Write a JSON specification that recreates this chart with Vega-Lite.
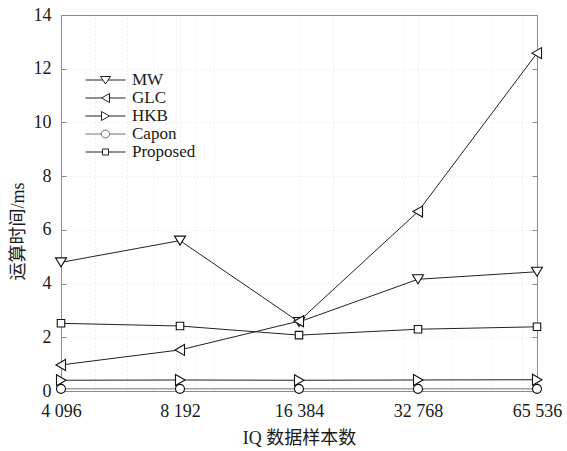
{
  "$schema": "https://vega.github.io/schema/vega-lite/v6.json",
  "width": 476,
  "height": 376,
  "autosize": {"type": "none"},
  "padding": {"left": 61, "top": 15, "right": 30, "bottom": 60},
  "background": "white",
  "config": {
    "view": {"stroke": null},
    "font": "Liberation Serif",
    "axis": {
      "labelFont": "Liberation Serif",
      "labelFontSize": 18,
      "labelColor": "#1a1a1a",
      "titleFont": "Liberation Serif, Noto Sans CJK SC",
      "titleFontSize": 18,
      "titleFontWeight": "normal",
      "titleColor": "#1a1a1a",
      "domainColor": "#8c8c8c",
      "tickColor": "#8c8c8c",
      "gridColor": "#e2e2e2",
      "gridDash": [1, 3],
      "gridWidth": 1
    }
  },
  "data": {
    "values": [
      {"n": 4096, "series": "MW", "t": 4.79},
      {"n": 8192, "series": "MW", "t": 5.6},
      {"n": 16384, "series": "MW", "t": 2.57},
      {"n": 32768, "series": "MW", "t": 4.16},
      {"n": 65536, "series": "MW", "t": 4.44},
      {"n": 4096, "series": "GLC", "t": 0.97},
      {"n": 8192, "series": "GLC", "t": 1.53},
      {"n": 16384, "series": "GLC", "t": 2.6},
      {"n": 32768, "series": "GLC", "t": 6.68},
      {"n": 65536, "series": "GLC", "t": 12.58},
      {"n": 4096, "series": "HKB", "t": 0.4},
      {"n": 8192, "series": "HKB", "t": 0.41},
      {"n": 16384, "series": "HKB", "t": 0.4},
      {"n": 32768, "series": "HKB", "t": 0.41},
      {"n": 65536, "series": "HKB", "t": 0.42},
      {"n": 4096, "series": "Capon", "t": 0.08},
      {"n": 8192, "series": "Capon", "t": 0.08},
      {"n": 16384, "series": "Capon", "t": 0.08},
      {"n": 32768, "series": "Capon", "t": 0.08},
      {"n": 65536, "series": "Capon", "t": 0.08},
      {"n": 4096, "series": "Proposed", "t": 2.52},
      {"n": 8192, "series": "Proposed", "t": 2.42},
      {"n": 16384, "series": "Proposed", "t": 2.08},
      {"n": 32768, "series": "Proposed", "t": 2.3},
      {"n": 65536, "series": "Proposed", "t": 2.39}
    ]
  },
  "resolve": {"axis": {"x": "independent", "y": "independent"}},
  "layer": [
    {
      "mark": {"type": "line", "strokeWidth": 1},
      "encoding": {
        "x": {
          "field": "n",
          "type": "quantitative",
          "scale": {"type": "log", "base": 2, "domain": [4096, 65536], "nice": false, "zero": false},
          "axis": {
            "orient": "bottom",
            "title": "IQ 数据样本数",
            "values": [4096, 8192, 16384, 32768, 65536],
            "labelExpr": "replace(format(datum.value, ','), ',', ' ')",
            "tickSize": -5,
            "labelPadding": 16,
            "labelFlush": false,
            "labelOverlap": false,
            "grid": true,
            "titleY": 47,
            "titleBaseline": "middle"
          }
        },
        "y": {
          "field": "t",
          "type": "quantitative",
          "scale": {"domain": [0, 14], "nice": false},
          "axis": {
            "orient": "left",
            "title": "运算时间/ms",
            "values": [0, 2, 4, 6, 8, 10, 12, 14],
            "tickSize": -5,
            "labelPadding": 15,
            "grid": true,
            "titleX": -43,
            "titleY": 216,
            "titleBaseline": "middle",
            "titleColor": "#1a1a1a"
          }
        },
        "stroke": {
          "field": "series",
          "type": "nominal",
          "scale": {
            "domain": ["MW", "GLC", "HKB", "Capon", "Proposed"],
            "range": ["#222222", "#222222", "#222222", "#707070", "#222222"]
          },
          "legend": {
            "title": null,
            "orient": "none",
            "legendX": 36,
            "legendY": 56.5,
            "padding": 0,
            "rowPadding": 0,
            "labelOffset": 18,
            "labelFont": "Liberation Serif",
            "labelFontSize": 17,
            "labelColor": "#1a1a1a",
            "symbolSize": 100,
            "symbolStrokeWidth": 1,
            "symbolFillColor": "white",
            "encode": {
              "symbols": {
                "update": {
                  "fill": {"value": "white"},
                  "shape": {"signal": "datum.value == 'MW' ? 'M-4,0H-0.53M0.53,0H4M-1,-0.7H1L0,0.8Z' : datum.value == 'GLC' ? 'M-4,0H-0.8M0.8,0H4M-0.8,0L0.8,-0.9L0.8,0.9Z' : datum.value == 'HKB' ? 'M-4,0H-0.8M0.8,0H4M0.8,0L-0.8,-0.9L-0.8,0.9Z' : datum.value == 'Capon' ? 'M-4,0H-0.8M0.8,0H4M-0.8,0A0.8,0.8,0,1,1,0.8,0A0.8,0.8,0,1,1,-0.8,0Z' : 'M-4,0H-0.6M0.6,0H4M-0.6,-0.6H0.6V0.6H-0.6Z'"}
                }
              }
            }
          }
        }
      }
    },
    {
      "mark": {"type": "point", "filled": false, "fill": "white", "fillOpacity": 1, "stroke": "#111111", "strokeWidth": 1.1, "size": 100, "opacity": 1},
      "encoding": {
        "x": {
          "field": "n",
          "type": "quantitative",
          "axis": {
            "orient": "top",
            "title": null,
            "values": [5000, 6000, 7000, 8000, 9000, 10000, 20000, 30000, 40000, 50000, 60000],
            "labels": false,
            "ticks": false,
            "grid": true,
            "domain": true
          }
        },
        "y": {
          "field": "t",
          "type": "quantitative",
          "axis": {
            "orient": "right",
            "title": null,
            "values": [0, 2, 4, 6, 8, 10, 12, 14],
            "labels": false,
            "tickSize": -5,
            "grid": false,
            "domain": true
          }
        },
        "shape": {
          "field": "series",
          "type": "nominal",
          "sort": ["MW", "GLC", "HKB", "Capon", "Proposed"],
          "scale": {
            "range": [
              "M-1.1,-0.9H1.1L0,0.9Z",
              "M-1,0L0.9,-1.1V1.1Z",
              "M1,0L-0.9,-1.1V1.1Z",
              "M-0.9,0A0.9,0.9,0,1,1,0.9,0A0.9,0.9,0,1,1,-0.9,0Z",
              "M-0.75,-0.75H0.75V0.75H-0.75Z"
            ]
          },
          "legend": null
        }
      }
    }
  ]
}
